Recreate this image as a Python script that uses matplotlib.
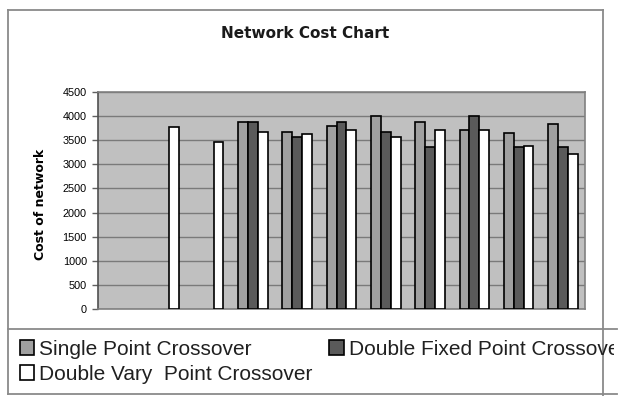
import numpy as np
import matplotlib
matplotlib.use("Agg")
import matplotlib.pyplot as plt
from matplotlib.lines import Line2D
from matplotlib.transforms import Bbox

# cost per run, one value per crossover method (nan = no run)
runs = np.arange(11)
single_point = [np.nan, np.nan, np.nan, 3880, 3660, 3790, 4000, 3880, 3700, 3650, 3830]
double_fixed = [np.nan, np.nan, np.nan, 3880, 3560, 3880, 3660, 3350, 4000, 3350, 3350]
double_vary = [np.nan, 3780, 3470, 3660, 3620, 3700, 3570, 3700, 3700, 3380, 3210]
yticks = np.arange(0, 4501, 500)

W, H = 628, 396
fig = plt.figure(figsize=(W / 100, H / 100), dpi=100)
fig.patch.set_facecolor("white")

def fx(px):
  return px / W

def fy(py):
  return 1 - py / H

ax = fig.add_axes([fx(98), fy(309.3), fx(585) - fx(98), fy(91.7) - fy(309.3)])
ax.set_facecolor("#c0c0c0")

bw = 0.222
kw = dict(width=bw, edgecolor="black", linewidth=1.2, zorder=3)
b1 = ax.bar(runs - bw, single_point, color="#a0a0a0", **kw)
b2 = ax.bar(runs, double_fixed, color="#5a5a5a", **kw)
b3 = ax.bar(runs + bw, double_vary, color="white", **kw)

ax.set_xlim(-0.5, 10.5)
ax.set_ylim(0, 4500)
ax.set_yticks(yticks)
ax.set_yticklabels([str(v) for v in yticks], fontsize=7.8, family="Liberation Sans")
ax.set_xticks([])
ax.tick_params(axis="y", length=4, width=1, color="#606060", pad=4)
ax.yaxis.grid(True, color="#7a7a7a", linewidth=1.0, zorder=1)
ax.set_axisbelow(True)
for side, sp in ax.spines.items():
  sp.set_color("#808080")
  sp.set_linewidth(1.2)
ax.spines["left"].set_color("#505050")

fig.text(fx(305), fy(33), "Network Cost Chart", ha="center", va="center",
         fontsize=11, fontweight="bold", color="#1a1a1a")
fig.text(fx(40), fy(204), "Cost of network", rotation=90, ha="center", va="center",
         fontsize=9, fontweight="heavy", color="black")

# chart frame and legend box
lc = "#8a8a8a"
frame = [
  ([8, 603], [10, 10]),
  ([8, 8], [10, 394]),
  ([603, 603], [10, 396]),
  ([8, 617], [329, 329]),
  ([8, 617], [394, 394]),
]
for xs, ys in frame:
  fig.add_artist(Line2D([fx(x) for x in xs], [fy(y) for y in ys],
                        transform=fig.transFigure, color=lc, linewidth=1.3))

# legend runs past the frame on the right and is cut at the box edge
leg = fig.legend([b1, b3, b2],
                 ["Single Point Crossover", "Double Vary  Point Crossover",
                  "Double Fixed Point Crossover"],
                 ncol=2, loc="upper left", bbox_to_anchor=(fx(5), fy(325)),
                 frameon=False, prop=dict(family="Liberation Sans", size=15),
                 handlelength=0.7, handleheight=0.7, handletextpad=0.25,
                 labelspacing=0.3, columnspacing=0.8, borderpad=0.2)
clip = Bbox([[0, 0], [614, H]])
for t in leg.get_texts():
  t.set_color("#202020")
  t.set_clip_box(clip)
  t.set_clip_on(True)

fig.savefig("out.png", dpi=100)
